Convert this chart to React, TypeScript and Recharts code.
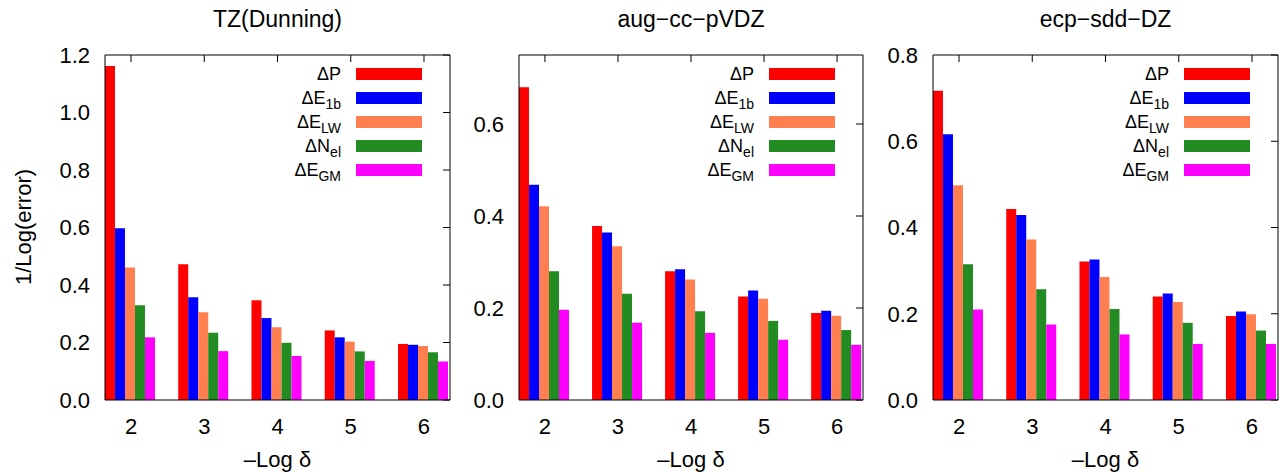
import { Bar, BarChart, Legend, XAxis, YAxis } from "recharts";

const categories = ["2", "3", "4", "5", "6"];

// TZ(Dunning)
const tzP = [1.162, 0.472, 0.347, 0.242, 0.195];
const tzE1b = [0.597, 0.357, 0.285, 0.218, 0.192];
const tzELW = [0.461, 0.305, 0.253, 0.203, 0.188];
const tzNel = [0.33, 0.234, 0.199, 0.169, 0.166];
const tzEGM = [0.218, 0.17, 0.153, 0.136, 0.134];

// aug-cc-pVDZ
const augP = [0.68, 0.378, 0.28, 0.225, 0.189];
const augE1b = [0.468, 0.364, 0.284, 0.238, 0.194];
const augELW = [0.421, 0.334, 0.262, 0.22, 0.183];
const augNel = [0.28, 0.231, 0.193, 0.172, 0.152];
const augEGM = [0.196, 0.168, 0.146, 0.131, 0.12];

// ecp-sdd-DZ
const ecpP = [0.717, 0.443, 0.321, 0.24, 0.195];
const ecpE1b = [0.616, 0.429, 0.326, 0.247, 0.205];
const ecpELW = [0.498, 0.372, 0.285, 0.227, 0.199];
const ecpNel = [0.315, 0.257, 0.211, 0.179, 0.161];
const ecpEGM = [0.21, 0.175, 0.152, 0.13, 0.13];

const tzTicks = [0, 0.2, 0.4, 0.6, 0.8, 1.0, 1.2];
const augTicks = [0, 0.2, 0.4, 0.6];
const ecpTicks = [0, 0.2, 0.4, 0.6, 0.8];

const series = [
  { key: "P", main: "ΔP", sub: "", color: "#ff0000" },
  { key: "E1b", main: "ΔE", sub: "1b", color: "#0000ff" },
  { key: "ELW", main: "ΔE", sub: "LW", color: "#ff7f50" },
  { key: "Nel", main: "ΔN", sub: "el", color: "#228b22" },
  { key: "EGM", main: "ΔE", sub: "GM", color: "#ff00ff" },
];

const FONT = "'Liberation Sans', Arial, Helvetica, sans-serif";

function buildRows(cols: number[][]) {
  return categories.map((c, i) => {
    const row: Record<string, number | string> = { cat: c };
    series.forEach((s, j) => {
      row[s.key] = cols[j][i];
    });
    return row;
  });
}

const panels = [
  {
    title: "TZ(Dunning)",
    left: 105,
    right: 450,
    domain: [0, 1.2],
    ticks: tzTicks,
    rows: buildRows([tzP, tzE1b, tzELW, tzNel, tzEGM]),
  },
  {
    title: "aug−cc−pVDZ",
    left: 519,
    right: 863,
    domain: [0, 0.75],
    ticks: augTicks,
    rows: buildRows([augP, augE1b, augELW, augNel, augEGM]),
  },
  {
    title: "ecp−sdd−DZ",
    left: 933,
    right: 1278,
    domain: [0, 0.8],
    ticks: ecpTicks,
    rows: buildRows([ecpP, ecpE1b, ecpELW, ecpNel, ecpEGM]),
  },
];

function KeyBox() {
  return (
    <div style={{ fontFamily: FONT, color: "#000" }}>
      {series.map((s) => (
        <div
          key={s.key}
          style={{
            display: "flex",
            justifyContent: "flex-end",
            alignItems: "center",
            height: 24,
          }}
        >
          <span style={{ fontSize: 18, lineHeight: "18px", whiteSpace: "nowrap" }}>
            {s.main}
            {s.sub && (
              <span style={{ fontSize: 14, position: "relative", top: 5 }}>{s.sub}</span>
            )}
          </span>
          <div style={{ width: 66, height: 12, background: s.color, marginLeft: 15 }} />
        </div>
      ))}
    </div>
  );
}

// mirror axes: only the inward tick marks, no labels
const hiddenTick = { fill: "transparent", fontSize: 1 };
const noLabel = () => "";

function Panel({ p }: { p: (typeof panels)[number] }) {
  const plotW = p.right - p.left;
  // stretch the bands a little so clusters touch the frame, like gnuplot
  const pad = -(plotW / 4.71 * 5 - plotW) / 2;
  const tickFmt = (v: number) => v.toFixed(1);
  return (
    <div style={{ position: "absolute", left: p.left - 70, top: 0 }}>
      <BarChart
        width={plotW + 80}
        height={472}
        data={p.rows}
        margin={{ top: 54, right: 9, bottom: 42, left: 10 }}
        barGap={0}
        barCategoryGap={10.6}
      >
        <XAxis
          dataKey="cat"
          height={30}
          padding={{ left: pad, right: pad }}
          axisLine={{ stroke: "#000" }}
          tickLine={false}
          tickSize={6}
          tickMargin={12}
          tick={{ fill: "#000", fontSize: 22, fontFamily: FONT }}
        />
        <XAxis
          xAxisId="top"
          dataKey="cat"
          orientation="top"
          height={1}
          padding={{ left: pad, right: pad }}
          axisLine={{ stroke: "#000" }}
          tickLine={{ stroke: "#000" }}
          tickSize={-7}
          tick={hiddenTick}
          tickFormatter={noLabel}
        />
        <YAxis
          width={60}
          domain={p.domain}
          ticks={p.ticks}
          allowDataOverflow
          tickFormatter={tickFmt}
          axisLine={{ stroke: "#000" }}
          tickLine={false}
          tickSize={6}
          tickMargin={9}
          tick={{ fill: "#000", fontSize: 22, fontFamily: FONT }}
        />
        <YAxis
          yAxisId="r"
          dataKey="P"
          orientation="right"
          width={1}
          domain={p.domain}
          ticks={p.ticks}
          allowDataOverflow
          axisLine={{ stroke: "#000" }}
          tickLine={{ stroke: "#000" }}
          tickSize={-7}
          tick={hiddenTick}
          tickFormatter={noLabel}
        />
        <Legend
          layout="vertical"
          align="center"
          verticalAlign="middle"
          wrapperStyle={{ top: 62, right: 38, left: "auto", width: "auto", bottom: "auto" }}
          content={() => <KeyBox />}
        />
        {series.map((s) => (
          <Bar key={s.key} dataKey={s.key} fill={s.color} isAnimationActive={false} />
        ))}
      </BarChart>
    </div>
  );
}

export default function App() {
  return (
    <div
      style={{
        position: "absolute",
        left: 0,
        top: 0,
        width: 1280,
        height: 472,
        background: "#fff",
        overflow: "hidden",
      }}
    >
      {panels.map((p) => (
        <Panel key={p.title} p={p} />
      ))}
      <svg
        width={1280}
        height={472}
        style={{ position: "absolute", left: 0, top: 0, pointerEvents: "none" }}
        fontFamily={FONT}
      >
        {panels.map((p) => (
          <g key={p.title}>
            <text x={(p.left + p.right) / 2} y={27} textAnchor="middle" fontSize={23}>
              {p.title}
            </text>
            <text x={(p.left + p.right) / 2} y={467} textAnchor="middle" fontSize={22}>
              –Log δ
            </text>
          </g>
        ))}
        <text
          transform="translate(31,227) rotate(-90)"
          textAnchor="middle"
          fontSize={22}
        >
          1/Log(error)
        </text>
      </svg>
    </div>
  );
}
